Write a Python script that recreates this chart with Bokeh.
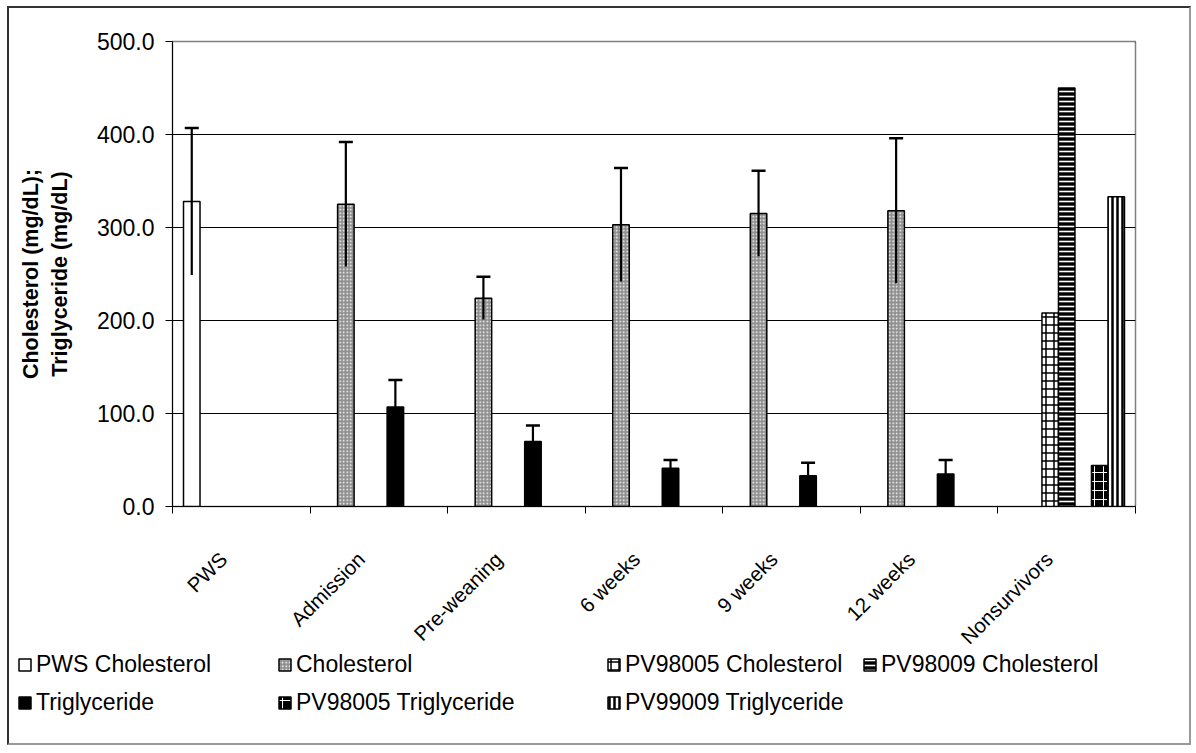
import math
from bokeh.plotting import figure
from bokeh.models import (ColumnDataSource, Whisker, TeeHead, Legend, LegendItem,
                          FixedTicker, NumeralTickFormatter, CustomJSTickFormatter, Range1d)
from bokeh.embed import file_html
from bokeh.resources import INLINE

# ---------------- data ----------------
categories = ["PWS", "Admission", "Pre-weaning", "6 weeks", "9 weeks", "12 weeks", "Nonsurvivors"]

pws_chol_cats = ["PWS"]
pws_chol_mean = [328]
pws_chol_sd = [79]

chol_cats = ["Admission", "Pre-weaning", "6 weeks", "9 weeks", "12 weeks"]
chol_mean = [325, 224, 303, 315, 318]
chol_sd = [67, 23, 61, 46, 78]

tg_cats = ["Admission", "Pre-weaning", "6 weeks", "9 weeks", "12 weeks"]
tg_mean = [107, 70, 41, 33, 35]
tg_sd = [29, 17, 9, 14, 15]

ns_cats = ["Nonsurvivors"]
pv98005_chol = [208]
pv98009_chol = [450]
pv98005_tg = [44]
pv99009_tg = [333]

y_ticks = [0, 100, 200, 300, 400, 500]

# ---------------- styles ----------------
FONT = "Liberation Sans"
N_SLOTS = 7
BAR_W = 0.12
GAP = (1 - N_SLOTS * BAR_W) / 2
LABEL_SHIFT = 0.13
BOX = "2px solid #333333"
BOX_LIGHT = "2px solid #9a9a9a"

ST_PWS = dict(fill_color="white")
ST_CHOL = dict(fill_color="#8f8f8f", hatch_pattern="dot", hatch_color="white",
               hatch_scale=3.5, hatch_weight=1.6)
ST_C05 = dict(fill_color="white", hatch_pattern="cross", hatch_color="black",
              hatch_scale=8, hatch_weight=1.5)
ST_C09 = dict(fill_color="black", hatch_pattern="horizontal_line", hatch_color="white",
              hatch_scale=5, hatch_weight=1.6)
ST_TG = dict(fill_color="black")
ST_T05 = dict(fill_color="black", hatch_pattern="cross", hatch_color="white",
              hatch_scale=9, hatch_weight=1)
ST_T09 = dict(fill_color="white", hatch_pattern="vertical_line", hatch_color="black",
              hatch_scale=5, hatch_weight=2.5)


def xpos(cats, slot):
    return [categories.index(c) + GAP + (slot + 0.5) * BAR_W for c in cats]


p = figure(width=1184, height=651, output_backend="svg", toolbar_location=None,
           x_range=Range1d(0, len(categories)), y_range=Range1d(0, 500),
           min_border_left=163, min_border_right=58, min_border_top=33, min_border_bottom=152,
           margin=(6, 0, 0, 7))
p.styles = {"border-top": BOX, "border-left": BOX, "border-right": BOX_LIGHT}
p.background_fill_color = "white"
p.border_fill_color = "white"
p.outline_line_color = "black"
p.outline_line_width = 1.5
p.outline_line_dash = "1 1"

# grid
p.xgrid.grid_line_color = None
p.ygrid.ticker = FixedTicker(ticks=y_ticks)
p.ygrid.grid_line_color = "black"
p.ygrid.grid_line_width = 1

# y axis
p.yaxis.ticker = FixedTicker(ticks=y_ticks)
p.yaxis.formatter = NumeralTickFormatter(format="0.0")
p.yaxis.major_label_text_font = FONT
p.yaxis.major_label_text_font_size = "23px"
p.yaxis.major_label_text_color = "black"
p.yaxis.major_tick_out = 7
p.yaxis.major_tick_in = 0
p.yaxis.minor_tick_line_color = None
p.yaxis.axis_line_color = "black"
p.yaxis.major_label_standoff = 11
p.yaxis.axis_label = "Cholesterol (mg/dL);\nTriglyceride (mg/dL)"
p.yaxis.axis_label_text_font = FONT
p.yaxis.axis_label_text_font_style = "bold"
p.yaxis.axis_label_text_font_size = "21.5px"
p.yaxis.axis_label_text_color = "black"
p.yaxis.axis_label_standoff = 22

# x axis
label_ticks = [i + 0.5 - LABEL_SHIFT for i in range(len(categories))]
bounds = list(range(len(categories) + 1))
p.xaxis.ticker = FixedTicker(ticks=label_ticks, minor_ticks=bounds)
p.xaxis.formatter = CustomJSTickFormatter(args=dict(cats=categories),
                                          code="return cats[Math.floor(tick)];")
p.xaxis.major_tick_line_color = None
p.xaxis.minor_tick_line_color = "black"
p.xaxis.minor_tick_out = 7
p.xaxis.minor_tick_in = 0
p.xaxis.axis_line_color = "black"
p.xaxis.major_label_orientation = math.pi / 4
p.xaxis.major_label_text_font = FONT
p.xaxis.major_label_text_font_size = "20.5px"
p.xaxis.major_label_text_color = "black"
p.xaxis.major_label_standoff = 42

# ---------------- bars ----------------
common = dict(width=BAR_W, bottom=0, line_color="black", line_width=1.5)

p.vbar(x=xpos(pws_chol_cats, 0), top=pws_chol_mean, **ST_PWS, **common)
p.vbar(x=xpos(chol_cats, 1), top=chol_mean, **ST_CHOL, **common)
p.vbar(x=xpos(ns_cats, 2), top=pv98005_chol, **ST_C05, **common)
p.vbar(x=xpos(ns_cats, 3), top=pv98009_chol, **ST_C09, **common)
p.vbar(x=xpos(tg_cats, 4), top=tg_mean, **ST_TG, **common)
p.vbar(x=xpos(ns_cats, 5), top=pv98005_tg, **ST_T05, **common)
p.vbar(x=xpos(ns_cats, 6), top=pv99009_tg, **ST_T09, **common)

# ---------------- error bars ----------------
def add_err(cats, slot, mean, sd):
    src = ColumnDataSource(dict(x=xpos(cats, slot),
                                upper=[m + s for m, s in zip(mean, sd)],
                                lower=[m - s for m, s in zip(mean, sd)]))
    w = Whisker(source=src, base="x", upper="upper", lower="lower", dimension="height",
                line_color="black", line_width=2.2, level="overlay",
                upper_head=TeeHead(size=14, line_width=2.5, line_color="black"),
                lower_head=None)
    p.add_layout(w)

add_err(pws_chol_cats, 0, pws_chol_mean, pws_chol_sd)
add_err(chol_cats, 1, chol_mean, chol_sd)
add_err(tg_cats, 4, tg_mean, tg_sd)

# ---------------- legend panel ----------------
p2 = figure(width=1184, height=98, output_backend="svg", toolbar_location=None,
            x_range=Range1d(0, 1), y_range=Range1d(0, 1),
            x_axis_location=None, y_axis_location=None, min_border=0,
            margin=(-10, 0, 0, 7))
p2.styles = {"border-left": BOX, "border-right": BOX_LIGHT, "border-bottom": BOX_LIGHT}
p2.outline_line_color = None
p2.grid.visible = False
p2.background_fill_alpha = 0
p2.border_fill_alpha = 0

lcommon = dict(x=[-10], top=[-10], width=0.1, bottom=-11, line_color="black", line_width=1.5)
g_pws = p2.vbar(**ST_PWS, **lcommon)
g_chol = p2.vbar(**ST_CHOL, **lcommon)
g_c05 = p2.vbar(**ST_C05, **lcommon)
g_c09 = p2.vbar(**ST_C09, **lcommon)
g_tg = p2.vbar(**ST_TG, **lcommon)
g_t05 = p2.vbar(**ST_T05, **lcommon)
g_t09 = p2.vbar(**ST_T09, **lcommon)


def add_legend(items, loc):
    lg = Legend(items=[LegendItem(label=lbl, renderers=[r]) for lbl, r in items],
                location=loc, orientation="vertical",
                border_line_color=None, background_fill_alpha=0,
                padding=0, margin=0, spacing=8,
                glyph_width=15, glyph_height=15, label_standoff=4, label_height=30,
                label_text_font=FONT, label_text_font_size="23px", label_text_color="black")
    p2.add_layout(lg, "center")

add_legend([("PWS Cholesterol", g_pws), ("Triglyceride", g_tg)], (8, 28))
add_legend([("Cholesterol", g_chol), ("PV98005 Triglyceride", g_t05)], (268, 28))
add_legend([("PV98005 Cholesterol", g_c05), ("PV99009 Triglyceride", g_t09)], (597, 28))
add_legend([("PV98009 Cholesterol", g_c09)], (853, 66))

open("out.html", "w").write(file_html([p, p2], INLINE))
